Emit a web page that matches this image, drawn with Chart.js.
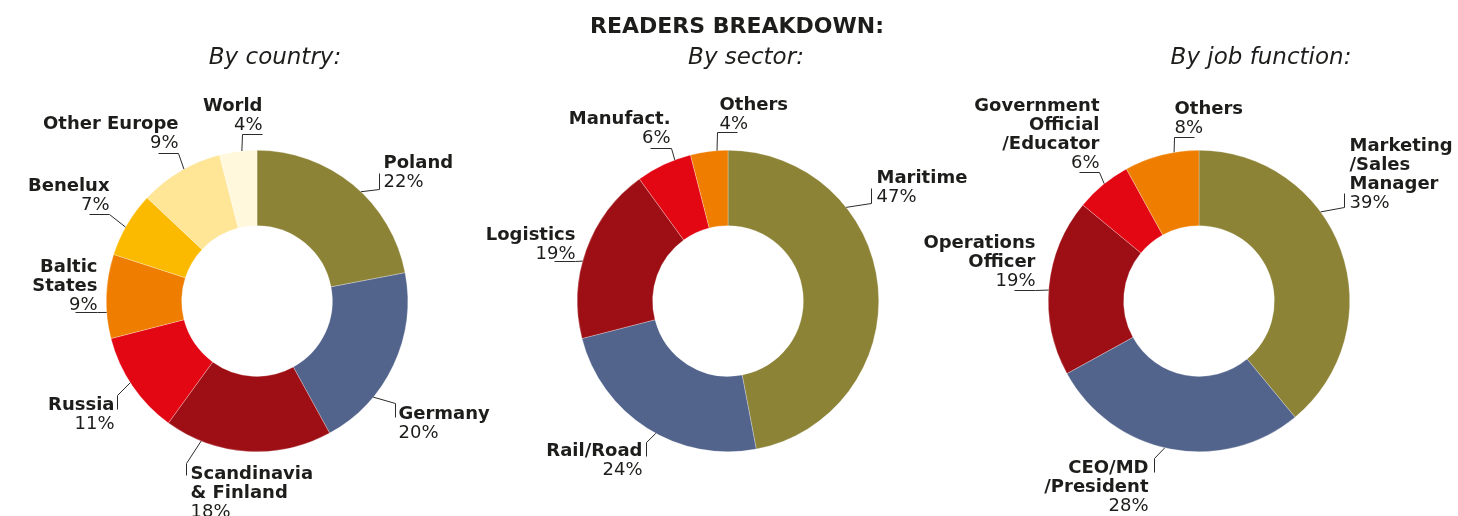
<!DOCTYPE html>
<html>
<head>
<meta charset="utf-8">
<title>Readers breakdown</title>
<script src="https://cdn.jsdelivr.net/npm/chart.js@4/dist/chart.umd.min.js"></script>
<style>
  html, body { margin: 0; padding: 0; background: #ffffff; width: 1458px; height: 516px; overflow: hidden; }
  canvas { position: absolute; left: 0; top: 0; }
</style>
</head>
<body>
<canvas id="c1" width="1458" height="516"></canvas>
<canvas id="c2" width="1458" height="516"></canvas>
<canvas id="c3" width="1458" height="516"></canvas>
<script>
// ---------- DATA ----------
const mainTitle = 'READERS BREAKDOWN:';

const countryTitle = 'By country:';
const countryLabels = [['Poland'], ['Germany'], ['Scandinavia', '& Finland'], ['Russia'], ['Baltic', 'States'], ['Benelux'], ['Other Europe'], ['World']];
const countryValues = [22, 20, 18, 11, 9, 7, 9, 4];

const sectorTitle = 'By sector:';
const sectorLabels = [['Maritime'], ['Rail/Road'], ['Logistics'], ['Manufact.'], ['Others']];
const sectorValues = [47, 24, 19, 6, 4];

const jobTitle = 'By job function:';
const jobLabels = [['Marketing', '/Sales', 'Manager'], ['CEO/MD', '/President'], ['Operations', 'Officer'], ['Government', 'Official', '/Educator'], ['Others']];
const jobValues = [39, 28, 19, 6, 8];

// ---------- STYLE ----------
const OLIVE = '#8d8337', BLUE = '#52648c', DARKRED = '#9d0f14', RED = '#e30613',
      ORANGE = '#ef7d00', YELLOW = '#fbba00', LIGHTYELLOW = '#ffe596', CREAM = '#fff8dc';
const countryColors = [OLIVE, BLUE, DARKRED, RED, ORANGE, YELLOW, LIGHTYELLOW, CREAM];
const sectorColors = [OLIVE, BLUE, DARKRED, RED, ORANGE];
const jobColors = [OLIVE, BLUE, DARKRED, RED, ORANGE];

// Label placement: f = where the leader touches the slice (fraction along its arc),
// d = elbow offset from that point, kind/bar = leader end style, tx/ty = text offset from elbow.
const countryLayout = [
  { f: .55,  d: [18, -3],   kind: 'up',    bar: 16,  tx: 4,  ty: -22, align: 'left' },
  { f: .70,  d: [22, 6],    kind: 'down',  bar: 14,  tx: 3,  ty: 15,  align: 'left' },
  { f: .78,  d: [-15, 22],  kind: 'down',  bar: 12,  tx: 4,  ty: 15,  align: 'left' },
  { f: .535, d: [-13, 12],  kind: 'down',  bar: 14,  tx: -3, ty: 14,  align: 'right' },
  { f: .31,  d: [-10, 0],   kind: 'under', bar: -22, tx: 0,  ty: -41, align: 'right' },
  { f: .45,  d: [-17, -13], kind: 'under', bar: -20, tx: 0,  ty: -24, align: 'right' },
  { f: .55,  d: [-6, -16],  kind: 'under', bar: -20, tx: 0,  ty: -25, align: 'right' },
  { f: .60,  d: [0, -17],   kind: 'under', bar: 20,  tx: 20, ty: -24, align: 'right' }
];
const sectorLayout = [
  { f: .305, d: [25, -4],   kind: 'up',    bar: 15,  tx: 5,  ty: -21, align: 'left' },
  { f: .456, d: [-10, 9],   kind: 'down',  bar: 14,  tx: -4, ty: 13,  align: 'right' },
  { f: .435, d: [-8, 0],    kind: 'under', bar: -21, tx: 0,  ty: -22, align: 'right' },
  { f: .71,  d: [-4, -12],  kind: 'under', bar: -21, tx: -1, ty: -25, align: 'right' },
  { f: .71,  d: [0, -19],   kind: 'under', bar: 20,  tx: 2,  ty: -23, align: 'left' }
];
const jobLayout = [
  { f: .383, d: [23, -5],   kind: 'up',    bar: 14,  tx: 5,  ty: -57, align: 'left' },
  { f: .523, d: [-11, 10],  kind: 'down',  bar: 14,  tx: -6, ty: 14,  align: 'right' },
  { f: .482, d: [-14, 0],   kind: 'under', bar: -21, tx: 0,  ty: -43, align: 'right' },
  { f: .53,  d: [-5, -12],  kind: 'under', bar: -20, tx: 0,  ty: -62, align: 'right' },
  { f: .67,  d: [0, -15],   kind: 'under', bar: 20,  tx: 0,  ty: -24, align: 'left' }
];

const FONT = '"DejaVu Sans", "Liberation Sans", sans-serif';
const TEXT = '#1d1d1b';
const LINE_H = 19.2;

const crisp = v => Math.round(v) + 0.5;

const labelPlugin = {
  id: 'sliceLabels',
  afterDatasetsDraw(chart, args, opts) {
    const ctx = chart.ctx;
    const meta = chart.getDatasetMeta(0);
    const names = chart.data.labels;
    const values = chart.data.datasets[0].data;
    ctx.save();
    meta.data.forEach((arc, i) => {
      const L = opts.layout[i];
      const p = arc.getProps(['x', 'y', 'startAngle', 'endAngle', 'outerRadius'], true);
      const a = p.startAngle + L.f * (p.endAngle - p.startAngle);
      const ax = p.x + p.outerRadius * Math.cos(a);
      const ay = p.y + p.outerRadius * Math.sin(a);
      const ex = crisp(ax + L.d[0]), ey = crisp(ay + L.d[1]);
      ctx.beginPath();
      ctx.moveTo(ax, ay);
      ctx.lineTo(ex, ey);
      if (L.kind === 'up') ctx.lineTo(ex, ey - L.bar);
      else if (L.kind === 'down') ctx.lineTo(ex, ey + L.bar);
      else ctx.lineTo(ex + L.bar, ey);
      ctx.strokeStyle = '#2b2b2a';
      ctx.lineWidth = 1;
      ctx.stroke();

      const tx = ex + L.tx;
      let by = ey + L.ty;
      ctx.textAlign = L.align;
      ctx.textBaseline = 'alphabetic';
      ctx.fillStyle = TEXT;
      ctx.font = 'bold 18px ' + FONT;
      names[i].forEach(s => { ctx.fillText(s, tx, by); by += LINE_H; });
      ctx.font = '18px ' + FONT;
      ctx.fillText(values[i] + '%', tx, by);
    });

    ctx.textAlign = 'center';
    ctx.textBaseline = 'alphabetic';
    ctx.fillStyle = TEXT;
    if (opts.subtitle) {
      ctx.font = 'italic 23px ' + FONT;
      ctx.fillText(opts.subtitle.text, opts.subtitle.x, opts.subtitle.y);
    }
    if (opts.title) {
      ctx.font = 'bold 22px ' + FONT;
      ctx.fillText(opts.title.text, opts.title.x, opts.title.y);
    }
    ctx.restore();
  }
};

const R = 151, CY = 301, W = 1458, H = 516;

function makeChart(id, cx, labels, values, colors, layout, subtitle, title) {
  return new Chart(document.getElementById(id), {
    type: 'doughnut',
    data: {
      labels: labels,
      datasets: [{
        data: values,
        backgroundColor: colors,
        borderColor: 'rgba(255,255,255,0.55)',
        borderWidth: 0.5,
        hoverOffset: 0
      }]
    },
    options: {
      responsive: false,
      animation: false,
      events: [],
      devicePixelRatio: 1,
      cutout: '50%',
      layout: { padding: { left: cx - R, right: W - (cx + R), top: CY - R, bottom: H - (CY + R) } },
      plugins: {
        legend: { display: false },
        tooltip: { enabled: false },
        title: { display: false },
        sliceLabels: { layout: layout, subtitle: subtitle, title: title }
      }
    },
    plugins: [labelPlugin]
  });
}

makeChart('c1', 257, countryLabels, countryValues, countryColors, countryLayout,
  { text: countryTitle, x: 275, y: 64 }, null);
makeChart('c2', 728, sectorLabels, sectorValues, sectorColors, sectorLayout,
  { text: sectorTitle, x: 746, y: 64 }, { text: mainTitle, x: 737, y: 33 });
makeChart('c3', 1199, jobLabels, jobValues, jobColors, jobLayout,
  { text: jobTitle, x: 1261, y: 64 }, null);
</script>
</body>
</html>
